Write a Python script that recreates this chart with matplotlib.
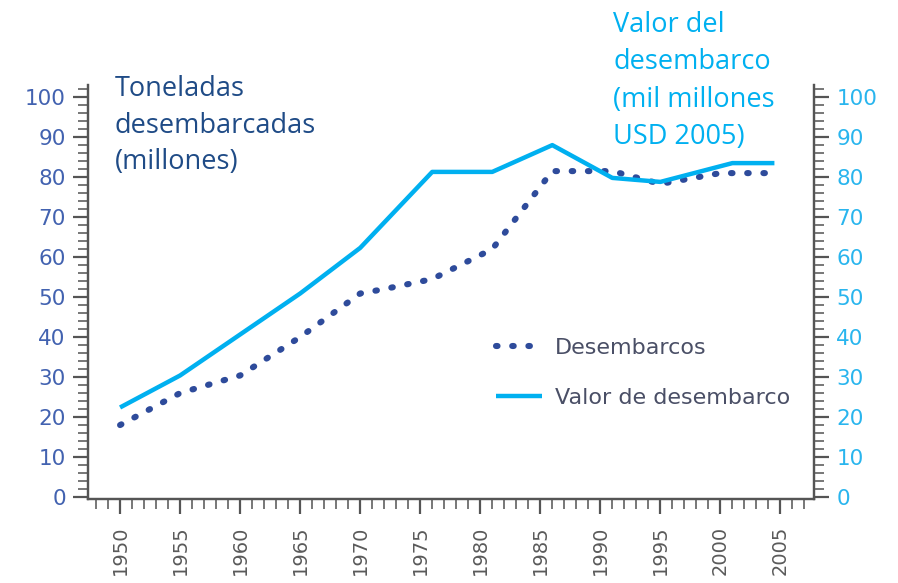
import matplotlib
matplotlib.use('Agg')
import matplotlib.pyplot as plt
from matplotlib.ticker import MultipleLocator

# --- data ---
valor_years = [1950, 1955, 1965, 1970, 1976, 1981, 1986, 1991, 1995, 2001, 2004.5]
valor = [22.4, 30.4, 50.9, 62.3, 81.3, 81.3, 88.0, 79.8, 78.8, 83.5, 83.5]

desemb_years = [1950, 1955, 1960, 1965, 1970, 1972, 1976, 1981, 1986, 1991, 1995, 2000, 2004.5]
desemb = [18.0, 26.0, 30.4, 40.0, 50.9, 52.0, 54.5, 62.0, 81.5, 81.5, 78.3, 81.0, 81.0]

year_ticks = list(range(1950, 2006, 5))
y_ticks = list(range(0, 101, 10))

DARK = '#2E4B9B'
LIGHT = '#00B0F0'
AXIS = '#555555'

fig = plt.figure(figsize=(8.98, 5.83), dpi=100)
ax = fig.add_axes([0.098, 0.144, 0.8085, 0.71])
ax2 = ax.twinx()

ax.plot(valor_years, valor, color=LIGHT, linewidth=3.2, solid_capstyle='butt',
        label='Valor de desembarco', zorder=3)
ax.plot(desemb_years, desemb, color=DARK, linewidth=4.4, linestyle=(0, (0.25, 2.4)),
        dash_capstyle='round', label='Desembarcos', zorder=2)

ax.set_xlim(1947.33, 2007.8)
ax.set_ylim(-0.5, 103)
ax2.set_ylim(-0.5, 103)

ax.set_xticks(year_ticks)
ax.set_xticklabels([str(y) for y in year_ticks], rotation=90, color='#5a5a5a', fontsize=14)
ax.xaxis.set_minor_locator(MultipleLocator(1))

for a, col in ((ax, '#4262B0'), (ax2, '#29B5EE')):
    a.set_yticks(y_ticks)
    a.yaxis.set_minor_locator(MultipleLocator(2))
    a.tick_params(axis='y', which='major', length=11, width=1.6, color=AXIS,
                  labelcolor=col, labelsize=15.5, pad=5)
    a.tick_params(axis='y', which='minor', length=7, width=1.4, color='#777777')
    a.spines['top'].set_visible(False)
    for s in a.spines.values():
        s.set_color(AXIS)
        s.set_linewidth(1.6)

ax.tick_params(axis='x', which='major', length=11, width=1.6, color=AXIS, pad=8)
ax.tick_params(axis='x', which='minor', length=7, width=1.4, color='#777777')

# axis titles as free text
fig.text(0.128, 0.871, 'Toneladas\ndesembarcadas\n(millones)', color='#1F4B86',
         fontsize=19.5, family='Open Sans', va='top', ha='left', linespacing=1.4)
fig.text(0.683, 0.981, 'Valor del\ndesembarco\n(mil millones\nUSD 2005)', color=LIGHT,
         fontsize=19.5, family='Open Sans', va='top', ha='left', linespacing=1.44)

h, l = ax.get_legend_handles_labels()
leg = ax.legend(h[::-1], l[::-1], loc='upper left', bbox_to_anchor=(0.534, 0.438),
                frameon=False, handlelength=2.07, labelspacing=1.35, handletextpad=0.6,
                fontsize=16)
for t in leg.get_texts():
    t.set_color('#4A4F66')

fig.savefig('out.png', dpi=100)
